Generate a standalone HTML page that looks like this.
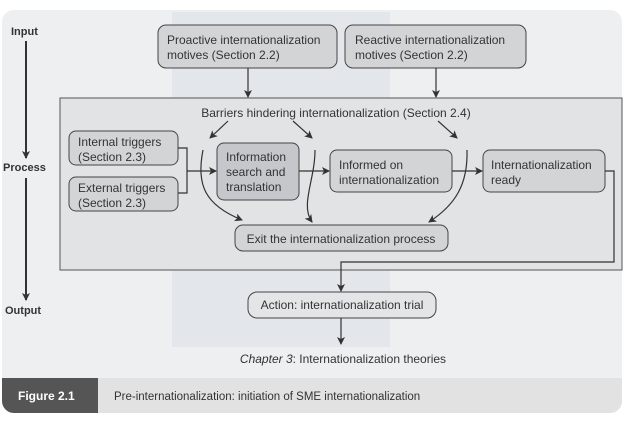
<html><body style="margin:0;background:#fff">
<svg width="624" height="423" viewBox="0 0 624 423" xmlns="http://www.w3.org/2000/svg" font-family="Liberation Sans, sans-serif" font-size="12" fill="#333">
<defs><marker id="a" markerWidth="8" markerHeight="8" refX="7" refY="4" orient="auto" markerUnits="userSpaceOnUse"><path d="M0,0 L8,4 L0,8 L2,4z" fill="#333"/></marker></defs>
<rect x="2" y="10" width="620" height="403" rx="12" fill="#eeeff0"/>
<rect x="172" y="12" width="218" height="335" fill="#c9d3e0" opacity="0.3"/>
<path d="M2,378 H622 V401 a12,12 0 0 1 -12,12 H14 a12,12 0 0 1 -12,-12z" fill="#e2e2e2"/>
<path d="M2,378 H98 V413 H14 a12,12 0 0 1 -12,-12z" fill="#555"/>
<text x="18" y="400" fill="#fff" font-weight="bold" font-size="12">Figure 2.1</text>
<text x="114" y="400" font-size="11.5">Pre-internationalization: initiation of SME internationalization</text>
<text x="11" y="35" font-weight="bold" font-size="11">Input</text>
<text x="3" y="171" font-weight="bold" font-size="11">Process</text>
<text x="5" y="314" font-weight="bold" font-size="11">Output</text>
<line x1="26" y1="41" x2="26" y2="158" stroke="#333" stroke-width="2" marker-end="url(#a)"/>
<line x1="26" y1="178" x2="26" y2="300" stroke="#333" stroke-width="2" marker-end="url(#a)"/>
<rect x="60" y="98" width="562" height="172" fill="#e2e3e5" stroke="#555"/>
<g stroke="#444" fill="#d3d4d6">
<rect x="158" y="25" width="179" height="43" rx="8"/>
<rect x="345" y="25" width="181" height="43" rx="8"/>
<rect x="69" y="131" width="109" height="34" rx="7"/>
<rect x="69" y="177" width="109" height="34" rx="7"/>
<rect x="217" y="143" width="82" height="57" rx="7" fill="#c6c7ca"/>
<rect x="330" y="150" width="122" height="42" rx="7"/>
<rect x="483" y="150" width="122" height="42" rx="7"/>
<rect x="235" y="225" width="213" height="26" rx="8"/>
<rect x="248" y="292" width="188" height="26" rx="9" fill="#e4e5e7"/>
</g>
<g stroke="#333" stroke-width="1.2" fill="none">
<line x1="248" y1="68" x2="248" y2="97" marker-end="url(#a)"/>
<line x1="436" y1="68" x2="436" y2="97" marker-end="url(#a)"/>
<path d="M178,148 H187 V193 H178"/>
<line x1="187" y1="171" x2="216" y2="171" marker-end="url(#a)"/>
<line x1="299" y1="171" x2="329" y2="171" marker-end="url(#a)"/>
<line x1="452" y1="171" x2="482" y2="171" marker-end="url(#a)"/>
<path d="M605,171 H614 V262 H341 V291" marker-end="url(#a)"/>
<line x1="341" y1="318" x2="341" y2="344" marker-end="url(#a)"/>
<line x1="228" y1="121" x2="210" y2="138" marker-end="url(#a)"/>
<line x1="293" y1="121" x2="312" y2="138" marker-end="url(#a)"/>
<line x1="438" y1="121" x2="457" y2="138" marker-end="url(#a)"/>
<path d="M203,150 C196,185 205,205 242,220" marker-end="url(#a)"/>
<path d="M315,150 C315,180 300,205 312,222" marker-end="url(#a)"/>
<path d="M467,150 C468,185 455,205 429,222" marker-end="url(#a)"/>
</g>
<text x="336" y="117" text-anchor="middle">Barriers hindering internationalization (Section 2.4)</text>
<text x="167" y="44">Proactive internationalization</text><text x="167" y="59">motives (Section 2.2)</text>
<text x="355" y="44">Reactive internationalization</text><text x="355" y="59">motives (Section 2.2)</text>
<text x="78" y="146">Internal triggers</text><text x="78" y="161">(Section 2.3)</text>
<text x="78" y="192">External triggers</text><text x="78" y="207">(Section 2.3)</text>
<text x="226" y="161">Information</text><text x="226" y="176">search and</text><text x="226" y="191">translation</text>
<text x="339" y="169">Informed on</text><text x="339" y="184">internationalization</text>
<text x="491" y="169">Internationalization</text><text x="491" y="184">ready</text>
<text x="341" y="243" text-anchor="middle">Exit the internationalization process</text>
<text x="342" y="309" text-anchor="middle">Action: internationalization trial</text>
<text x="343" y="363" text-anchor="middle"><tspan font-style="italic">Chapter 3</tspan>: Internationalization theories</text>
</svg>
</body></html>
